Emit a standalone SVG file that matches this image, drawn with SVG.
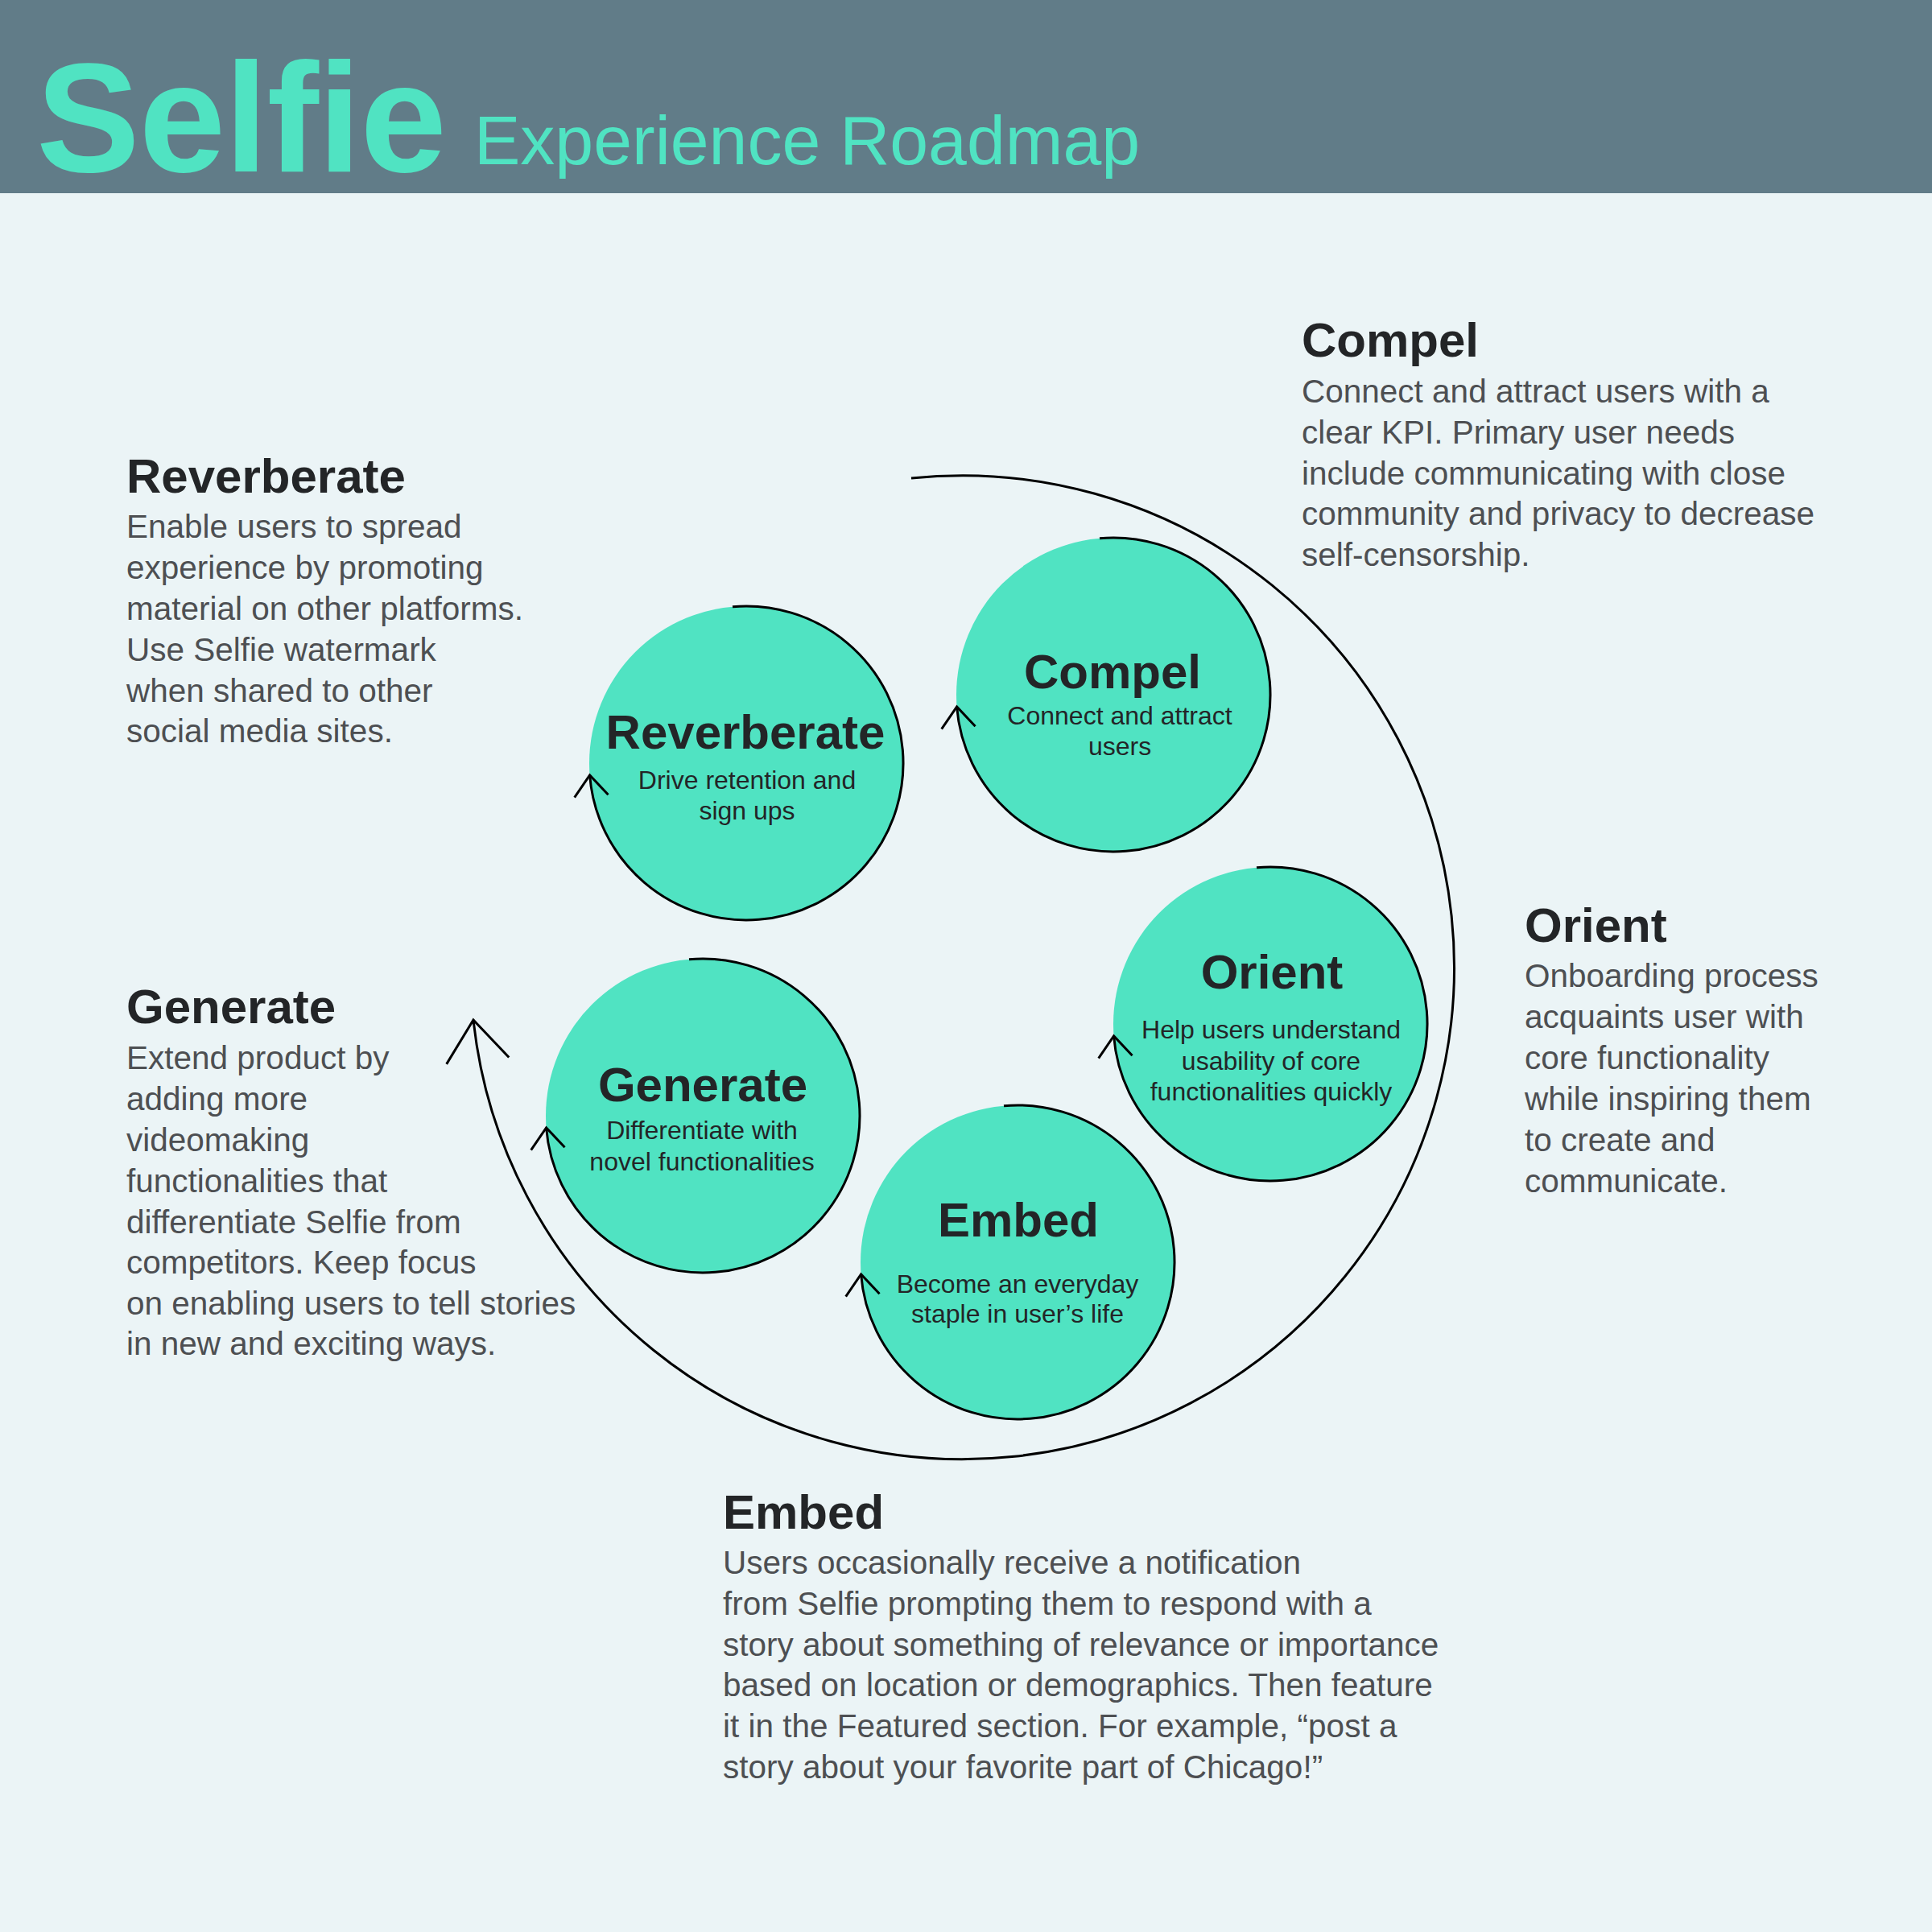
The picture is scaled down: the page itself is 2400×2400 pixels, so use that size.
<svg xmlns="http://www.w3.org/2000/svg" width="2400" height="2400" viewBox="0 0 2400 2400">
<style>
.bg{fill:#EBF4F6}
.hdr{fill:#617C88}
.brand{font-family:"Liberation Sans",Arial,sans-serif;fill:#50E3C2}
.node{fill:#50E3C2}
.ntitle{font-family:"Liberation Sans",Arial,sans-serif;font-weight:bold;font-size:60px;fill:#232527;text-anchor:middle}
.nsub{font-family:"Liberation Sans",Arial,sans-serif;font-size:32px;fill:#232527;text-anchor:middle}
.btitle{font-family:"Liberation Sans",Arial,sans-serif;font-weight:bold;font-size:60px;fill:#232527}
.body{font-family:"Liberation Sans",Arial,sans-serif;font-size:40.5px;fill:#4D4F52}
.ring{fill:none;stroke:#000;stroke-width:3}
</style>
<defs>
<marker id="ahS" markerUnits="userSpaceOnUse" orient="auto" viewBox="-40 -40 80 80" markerWidth="80" markerHeight="80" refX="0" refY="0">
<path d="M-26,-21 L0,0 L-26,21" fill="none" stroke="#000" stroke-width="3"/>
</marker>
<marker id="ahL" markerUnits="userSpaceOnUse" orient="auto" viewBox="-70 -70 140 140" markerWidth="140" markerHeight="140" refX="0" refY="0">
<path d="M-51,-39 L0,0 L-51,39" fill="none" stroke="#000" stroke-width="3"/>
</marker>
</defs>
<rect class="bg" x="0" y="0" width="2400" height="2400"/>
<g id="header">
<rect class="hdr" x="0" y="0" width="2400" height="240"/>
<text class="brand" x="45" y="213" font-size="193" font-weight="bold" letter-spacing="-1">Selfie</text>
<text class="brand" x="589" y="204" font-size="86">Experience Roadmap</text>
</g>
<g id="node-compel">
<circle class="node" cx="1383" cy="863" r="195"/>
<text class="ntitle" x="1382" y="855">Compel</text>
<text class="nsub" x="1391" y="900">Connect and attract</text>
<text class="nsub" x="1391" y="938">users</text>
</g>
<g id="node-reverberate">
<circle class="node" cx="927" cy="948" r="195"/>
<text class="ntitle" x="926" y="930">Reverberate</text>
<text class="nsub" x="928" y="980">Drive retention and</text>
<text class="nsub" x="928" y="1018">sign ups</text>
</g>
<g id="node-generate">
<circle class="node" cx="873" cy="1386" r="195"/>
<text class="ntitle" x="873" y="1368">Generate</text>
<text class="nsub" x="872" y="1415">Differentiate with</text>
<text class="nsub" x="872" y="1454">novel functionalities</text>
</g>
<g id="node-orient">
<circle class="node" cx="1578" cy="1272" r="195"/>
<text class="ntitle" x="1580" y="1228">Orient</text>
<text class="nsub" x="1579" y="1290">Help users understand</text>
<text class="nsub" x="1579" y="1329">usability of core</text>
<text class="nsub" x="1579" y="1367">functionalities quickly</text>
</g>
<g id="node-embed">
<circle class="node" cx="1264" cy="1568" r="195"/>
<text class="ntitle" x="1265" y="1536">Embed</text>
<text class="nsub" x="1264" y="1606">Become an everyday</text>
<text class="nsub" x="1264" y="1643">staple in user’s life</text>
</g>
<g id="connectors">
<path class="ring" d="M1366,668.7 A195,195 0 1 1 1188.6,878" marker-end="url(#ahS)"/>
<path class="ring" d="M910,753.7 A195,195 0 1 1 732.6,963" marker-end="url(#ahS)"/>
<path class="ring" d="M856,1191.7 A195,195 0 1 1 678.6,1401" marker-end="url(#ahS)"/>
<path class="ring" d="M1561,1077.7 A195,195 0 1 1 1383.6,1287" marker-end="url(#ahS)"/>
<path class="ring" d="M1247,1373.7 A195,195 0 1 1 1069.6,1583" marker-end="url(#ahS)"/>
<path class="ring" d="M1132,594 A611,611 0 1 1 588,1267" marker-end="url(#ahL)"/>
</g>
<g id="text-compel">
<text class="btitle" x="1617" y="443">Compel</text>
<text class="body" x="1617" y="500">Connect and attract users with a</text>
<text class="body" x="1617" y="551">clear KPI. Primary user needs</text>
<text class="body" x="1617" y="602">include communicating with close</text>
<text class="body" x="1617" y="652">community and privacy to decrease</text>
<text class="body" x="1617" y="703">self-censorship.</text>
</g>
<g id="text-reverberate">
<text class="btitle" x="157" y="612">Reverberate</text>
<text class="body" x="157" y="668">Enable users to spread</text>
<text class="body" x="157" y="719">experience by promoting</text>
<text class="body" x="157" y="770">material on other platforms.</text>
<text class="body" x="157" y="821">Use Selfie watermark</text>
<text class="body" x="157" y="872">when shared to other</text>
<text class="body" x="157" y="922">social media sites.</text>
</g>
<g id="text-orient">
<text class="btitle" x="1894" y="1170">Orient</text>
<text class="body" x="1894" y="1226">Onboarding process</text>
<text class="body" x="1894" y="1277">acquaints user with</text>
<text class="body" x="1894" y="1328">core functionality</text>
<text class="body" x="1894" y="1379">while inspiring them</text>
<text class="body" x="1894" y="1430">to create and</text>
<text class="body" x="1894" y="1481">communicate.</text>
</g>
<g id="text-generate">
<text class="btitle" x="157" y="1271">Generate</text>
<text class="body" x="157" y="1328">Extend product by</text>
<text class="body" x="157" y="1379">adding more</text>
<text class="body" x="157" y="1430">videomaking</text>
<text class="body" x="157" y="1481">functionalities that</text>
<text class="body" x="157" y="1532">differentiate Selfie from</text>
<text class="body" x="157" y="1582">competitors. Keep focus</text>
<text class="body" x="157" y="1633">on enabling users to tell stories</text>
<text class="body" x="157" y="1683">in new and exciting ways.</text>
</g>
<g id="text-embed">
<text class="btitle" x="898" y="1899">Embed</text>
<text class="body" x="898" y="1955">Users occasionally receive a notification</text>
<text class="body" x="898" y="2006">from Selfie prompting them to respond with a</text>
<text class="body" x="898" y="2057">story about something of relevance or importance</text>
<text class="body" x="898" y="2107">based on location or demographics. Then feature</text>
<text class="body" x="898" y="2158">it in the Featured section. For example, “post a</text>
<text class="body" x="898" y="2209">story about your favorite part of Chicago!”</text>
</g>
</svg>
